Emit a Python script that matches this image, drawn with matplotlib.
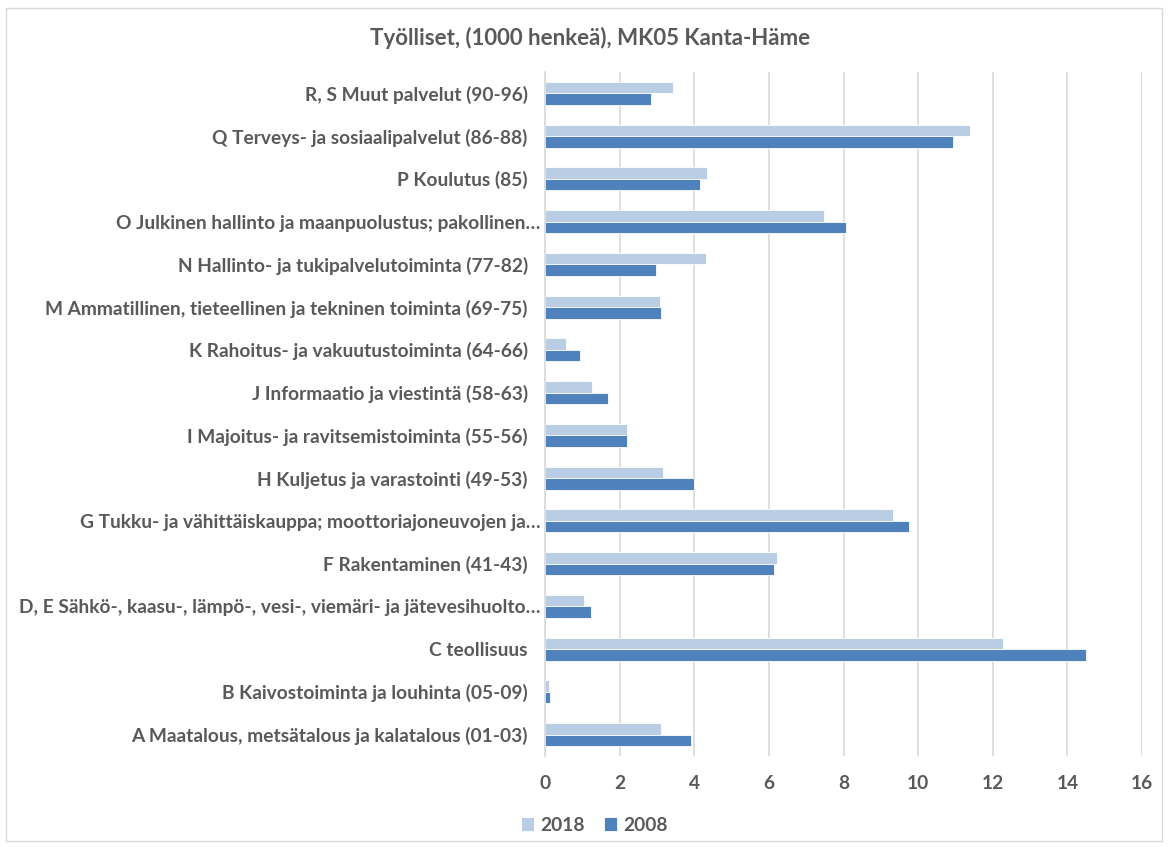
import numpy as np
import matplotlib.pyplot as plt
import matplotlib.transforms as mtransforms
from matplotlib.patches import Rectangle

categories = [
    "A Maatalous, metsätalous ja kalatalous (01-03)",
    "B Kaivostoiminta ja louhinta (05-09)",
    "C teollisuus",
    "D, E Sähkö-, kaasu-, lämpö-, vesi-, viemäri- ja jätevesihuolto…",
    "F Rakentaminen (41-43)",
    "G Tukku- ja vähittäiskauppa; moottoriajoneuvojen ja…",
    "H Kuljetus ja varastointi (49-53)",
    "I Majoitus- ja ravitsemistoiminta (55-56)",
    "J Informaatio ja viestintä (58-63)",
    "K Rahoitus- ja vakuutustoiminta (64-66)",
    "M Ammatillinen, tieteellinen ja tekninen toiminta (69-75)",
    "N Hallinto- ja tukipalvelutoiminta (77-82)",
    "O Julkinen hallinto ja maanpuolustus; pakollinen…",
    "P Koulutus (85)",
    "Q Terveys- ja sosiaalipalvelut (86-88)",
    "R, S Muut palvelut (90-96)",
]
v2018 = [3.10, 0.10, 12.28, 1.05, 6.21, 9.32, 3.15, 2.21, 1.27, 0.56, 3.09, 4.32, 7.49, 4.33, 11.39, 3.44]
v2008 = [3.92, 0.13, 14.51, 1.23, 6.13, 9.75, 4.00, 2.20, 1.68, 0.93, 3.11, 2.98, 8.06, 4.16, 10.93, 2.83]

TXT = "#595959"
plt.rcParams['font.family'] = ['Lato', 'DejaVu Sans']

fig = plt.figure(figsize=(11.68, 8.47), dpi=100)
ax = fig.add_axes([545 / 1168, 1 - 756 / 847, (1142 - 545) / 1168, (756 - 72) / 847])

y = np.arange(len(categories))
h = 0.27
ax.barh(y + h / 2, v2018, height=h, color="#B9CDE5", edgecolor="white", linewidth=0.6, label="2018")
ax.barh(y - h / 2, v2008, height=h, color="#4F81BD", edgecolor="white", linewidth=0.6, label="2008")

ax.set_xlim(0, 16)
ax.set_ylim(-0.5, len(categories) - 0.5)
ax.set_xticks(np.arange(0, 17, 2))
ax.set_yticks(y)
ax.set_yticklabels(categories)
ax.tick_params(length=0, labelsize=13.8, labelcolor=TXT, pad=14)
ax.tick_params(axis='y', pad=12.4)
for lbl in ax.get_xticklabels() + ax.get_yticklabels():
    lbl.set_fontweight('bold')
# truncated labels sit a little further right, as in the original
shift = mtransforms.ScaledTranslation(13 / 100, 0, fig.dpi_scale_trans)
for lbl in ax.get_yticklabels():
    if lbl.get_text().endswith("…"):
        lbl.set_transform(lbl.get_transform() + shift)

ax.grid(axis='x', color="#D9D9D9", linewidth=1.2)
ax.set_axisbelow(True)
for s in ["top", "right", "bottom"]:
    ax.spines[s].set_visible(False)
ax.spines["left"].set_color("#D9D9D9")
ax.spines["left"].set_linewidth(1.2)

fig.text(590 / 1168, 1 - 38 / 847, "Työlliset, (1000 henkeä), MK05 Kanta-Häme",
         ha='center', va='center', fontsize=16, fontweight='bold', color=TXT)

leg = fig.legend(loc='center', bbox_to_anchor=(594 / 1168, 1 - 825 / 847), ncol=2, frameon=False,
                 prop={'size': 13.8, 'weight': 'bold'}, handlelength=0.7, handleheight=0.7,
                 columnspacing=1.0, handletextpad=0.3, labelcolor=TXT)

fig.patches.append(Rectangle((6 / 1168, 1 - 841 / 847), 1156 / 1168, 833 / 847,
                             transform=fig.transFigure, fill=False, edgecolor="#D9D9D9", linewidth=1))

fig.savefig("out.png", dpi=100)
